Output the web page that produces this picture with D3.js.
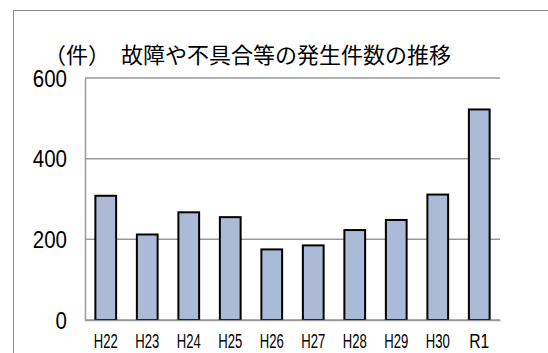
<!DOCTYPE html>
<html>
<head>
<meta charset="utf-8">
<script src="https://cdn.jsdelivr.net/npm/d3@7"></script>
<style>
  body { margin: 0; background: #fff; }
  svg { display: block; }
</style>
</head>
<body>
<div class="chart"></div>
<script>
// data
var years = ["H22", "H23", "H24", "H25", "H26", "H27", "H28", "H29", "H30", "R1"];
var counts = [308, 212, 267, 255, 175, 185, 223, 248, 311, 522];
var yTicks = [0, 200, 400, 600];
var title = "（件）　故障や不具合等の発生件数の推移";

var svgWidth = 548, svgHeight = 353;
var margin = { top: 78, right: 48, bottom: 33, left: 85 };
var width = svgWidth - margin.left - margin.right;
var height = svgHeight - margin.top - margin.bottom;

var svg = d3.select(".chart").append("svg")
  .attr("width", svgWidth)
  .attr("height", svgHeight);

// outer frame
svg.append("rect")
  .attr("x", 13.5).attr("y", 10.5)
  .attr("width", 560).attr("height", 380)
  .attr("fill", "none")
  .attr("stroke", "#8c8c8c")
  .attr("stroke-width", 1);

svg.append("text")
  .attr("x", 44).attr("y", 63)
  .attr("font-family", "'Noto Sans CJK JP', sans-serif")
  .attr("font-size", 22)
  .attr("fill", "#000")
  .text(title);

var g = svg.append("g")
  .attr("transform", "translate(" + margin.left + "," + margin.top + ")");

var x = d3.scaleBand()
  .domain(years)
  .range([0, width])
  .paddingInner(0.5)
  .paddingOuter(0.25);

var y = d3.scaleLinear()
  .domain([0, 600])
  .range([height, 0]);

// gridlines
g.append("g")
  .attr("class", "grid")
  .selectAll("line")
  .data(yTicks)
  .enter().append("line")
  .attr("x1", 0).attr("x2", width)
  .attr("y1", function(d) { return y(d); })
  .attr("y2", function(d) { return y(d); })
  .attr("stroke", "#999")
  .attr("stroke-width", 1.5);

// y axis (narrow look: squeeze the digits)
var yAxis = g.append("g")
  .call(d3.axisLeft(y).tickValues(yTicks).tickSize(0).tickPadding(18));
yAxis.select(".domain").attr("stroke", "#999").attr("stroke-width", 1.5);
yAxis.selectAll("text")
  .attr("font-family", "'Liberation Sans', Arial, sans-serif")
  .attr("font-size", 23)
  .attr("fill", "#000")
  .attr("dy", "0.36em")
  .attr("textLength", function(d) { return String(d).length * 11.4; })
  .attr("lengthAdjust", "spacingAndGlyphs");

// bars
g.append("g")
  .selectAll("rect")
  .data(counts)
  .enter().append("rect")
  .attr("x", function(d, i) { return x(years[i]); })
  .attr("y", function(d) { return y(d); })
  .attr("width", x.bandwidth())
  .attr("height", function(d) { return y(0) - y(d); })
  .attr("fill", "#abbad7")
  .attr("stroke", "#000")
  .attr("stroke-width", 2);

// x axis
var xAxis = g.append("g")
  .attr("transform", "translate(0," + height + ")")
  .call(d3.axisBottom(x).tickSize(0).tickPadding(14));
xAxis.select(".domain").attr("stroke", "#999").attr("stroke-width", 1.5);
xAxis.selectAll("text")
  .attr("font-family", "'Liberation Sans', Arial, sans-serif")
  .attr("font-size", 20)
  .attr("fill", "#000")
  .attr("dy", "0.71em")
  .attr("textLength", function(d) { return d.length == 3 ? 24 : 20; })
  .attr("lengthAdjust", "spacingAndGlyphs");
</script>
</body>
</html>
